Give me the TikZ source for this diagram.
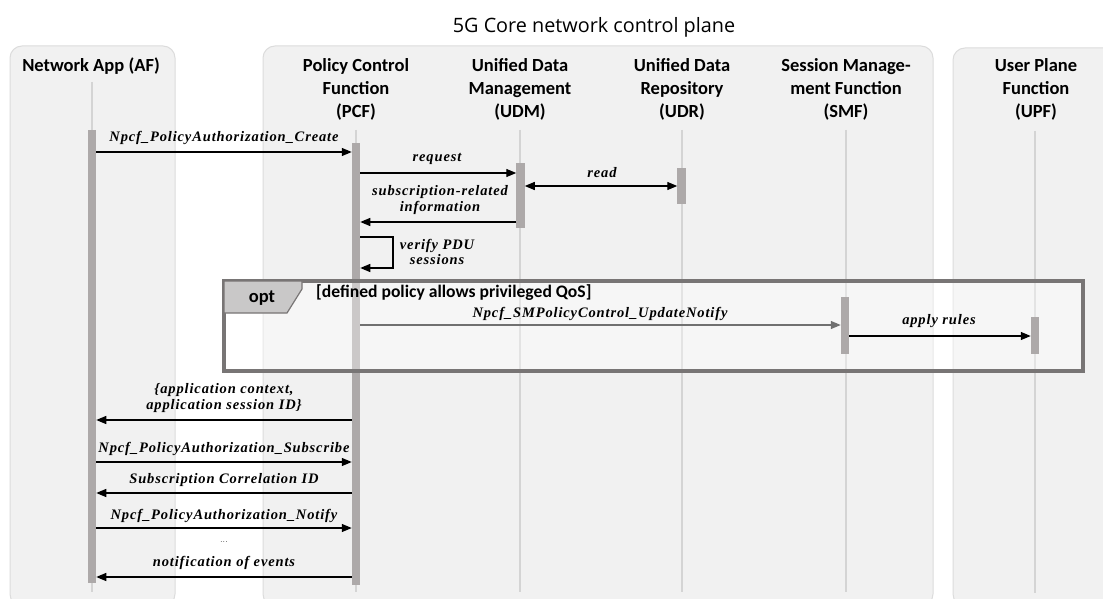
\documentclass[tikz,border=0pt]{standalone}
\usepackage{fontspec}
\newfontfamily\hdrfont{Carlito}
\newfontfamily\ttlfont{Open Sans}
\newfontfamily\msgfont{Liberation Serif}[LetterSpace=6]
\usetikzlibrary{arrows.meta}
\definecolor{panelfill}{HTML}{F1F1F1}
\definecolor{panelline}{HTML}{DCDCDC}
\definecolor{lifecol}{HTML}{D4D4D4}
\definecolor{barfill}{HTML}{ADA9A9}
\definecolor{optline}{HTML}{787575}
\definecolor{tabfill}{HTML}{C9C8C8}
\definecolor{notifygray}{HTML}{707070}
\tikzset{
  panel/.style={fill=panelfill, draw=panelline, line width=1pt, rounded corners=12pt},
  life/.style={draw=lifecol, line width=1.5pt},
  actbar/.style={fill=barfill, draw=none, minimum width=8.5pt, inner sep=0pt, anchor=north, outer sep=0pt},
  msg/.style={line width=1.3pt, -{Triangle[length=10pt,width=8pt]}},
  lbl/.style={font=\msgfont\fontsize{14.5}{15.5}\selectfont\bfseries\itshape, inner sep=0pt, align=center},
  hdr/.style={font=\hdrfont\bfseries\fontsize{18.5}{23}\selectfont, align=center, inner sep=0pt, anchor=north},
}
\begin{document}
\begin{tikzpicture}[x=1pt,y=-1pt]
\useasboundingbox (0,0) rectangle (1103,599);
\fill[white] (0,0) rectangle (1103,599);
% title
\node[font=\ttlfont\fontsize{19.8}{22}\selectfont, inner sep=0pt] (title) at (594,27) {5G Core network control plane};
% panels
\draw[panel] (10,46) rectangle (175,606);
\draw[panel] (263,46) rectangle (933,606);
\draw[panel] (953,48) rectangle (1120,606);
% headers
\node[hdr] (hAF) at (91,58) {Network App (AF)};
\node[hdr] (hPCF) at (356,58) {Policy Control\\Function\\(PCF)};
\node[hdr] (hUDM) at (520,58) {Unified Data\\Management\\(UDM)};
\node[hdr] (hUDR) at (682,58) {Unified Data\\Repository\\(UDR)};
\node[hdr] (hSMF) at (846,58) {Session Manage-\\ment Function\\(SMF)};
\node[hdr] (hUPF) at (1036,58) {User Plane\\Function\\(UPF)};
% lifelines
\coordinate (lAFt) at (92,82);   \coordinate (lAFb) at (92,592);
\coordinate (lPCFt) at (356,130); \coordinate (lPCFb) at (356,592);
\coordinate (lUDMt) at (520,130); \coordinate (lUDMb) at (520,592);
\coordinate (lUDRt) at (682,130); \coordinate (lUDRb) at (682,592);
\coordinate (lSMFt) at (846,130); \coordinate (lSMFb) at (846,592);
\coordinate (lUPFt) at (1035,131); \coordinate (lUPFb) at (1035,593);
\draw[life] (lAFt) -- (lAFb);
\draw[life] (lPCFt) -- (lPCFb);
\draw[life] (lUDMt) -- (lUDMb);
\draw[life] (lUDRt) -- (lUDRb);
\draw[life] (lSMFt) -- (lSMFb);
\draw[life] (lUPFt) -- (lUPFb);
% activation bars
\node[actbar, minimum height=453pt] (afbar) at (92,130) {};
\node[actbar, minimum height=442pt] (pcfbar) at (356,143) {};
\node[actbar, minimum height=65pt] (udmbar) at (520.5,163) {};
\node[actbar, minimum height=36pt] (udrbar) at (681.5,168) {};
% message levels
\coordinate (y1) at (0,152);
\coordinate (y2) at (0,173);
\coordinate (y3) at (0,186);
\coordinate (y4) at (0,222);
\coordinate (y6) at (0,325);
\coordinate (y7) at (0,336);
\coordinate (y8) at (0,420);
\coordinate (y9) at (0,462);
\coordinate (y10) at (0,493);
\coordinate (y11) at (0,528);
\coordinate (y13) at (0,577);
% messages before opt
\draw[msg] (afbar.east |- y1) -- (pcfbar.west |- y1);
\node[lbl] (t1) at (224,138) {Npcf\_PolicyAuthorization\_Create};
\draw[msg] (pcfbar.east |- y2) -- (udmbar.west |- y2);
\node[lbl] (t2) at (437,159) {request};
\draw[line width=1.3pt, {Triangle[length=10pt,width=8pt]}-{Triangle[length=10pt,width=8pt]}] (udmbar.east |- y3) -- (udrbar.west |- y3);
\node[lbl] (t3) at (602,173) {read};
\draw[msg] (udmbar.west |- y4) -- (pcfbar.east |- y4);
\node[lbl] (t4) at (440,200) {subscription-related\\information};
% self message
\coordinate (s1) at (393,237);
\coordinate (s2) at (393,268);
\draw[msg] (pcfbar.east |- s1) -- (s1) -- (s2) -- (pcfbar.east |- s2);
\node[lbl] (t5) at (437,252) {verify PDU\\sessions};
% opt fragment
\draw[line width=4pt, draw=optline, fill=white, fill opacity=0.37] (224,281) rectangle (1083,371);
\draw[line width=1.2pt, draw=optline, fill=tabfill] (224,281) -- (302,281) -- (302,289) -- (287,313) -- (224,313) -- cycle;
\node[font=\hdrfont\bfseries\fontsize{18.5}{20}\selectfont, inner sep=0pt] (optlbl) at (262,298) {opt};
\node[font=\hdrfont\bfseries\fontsize{17.6}{20}\selectfont, inner sep=0pt, anchor=west] (guard) at (316,293) {[defined policy allows privileged QoS]};
\node[actbar, minimum height=57pt] (smfbar) at (845,297) {};
\node[actbar, minimum height=37pt] (upfbar) at (1035,317) {};
\draw[msg, draw=notifygray, line width=1.2pt] (pcfbar.east |- y6) -- (smfbar.west |- y6);
\node[lbl] (t6) at (600,314) {Npcf\_SMPolicyControl\_UpdateNotify};
\draw[msg] (smfbar.east |- y7) -- (upfbar.west |- y7);
\node[lbl] (t7) at (939,321) {apply rules};
% messages after opt
\draw[msg] (pcfbar.west |- y8) -- (afbar.east |- y8);
\node[lbl] (t8) at (224,398) {\{application context,\\application session ID\}};
\draw[msg] (afbar.east |- y9) -- (pcfbar.west |- y9);
\node[lbl] (t9) at (224,449) {Npcf\_PolicyAuthorization\_Subscribe};
\draw[msg] (pcfbar.west |- y10) -- (afbar.east |- y10);
\node[lbl] (t10) at (224,480) {Subscription Correlation ID};
\draw[msg] (afbar.east |- y11) -- (pcfbar.west |- y11);
\node[lbl] (t11) at (224,516) {Npcf\_PolicyAuthorization\_Notify};
\node[font=\fontsize{9}{10}\selectfont, inner sep=0pt] (dots) at (224,542) {...};
\draw[msg] (pcfbar.west |- y13) -- (afbar.east |- y13);
\node[lbl] (t13) at (224,563) {notification of events};
\end{tikzpicture}
\end{document}
